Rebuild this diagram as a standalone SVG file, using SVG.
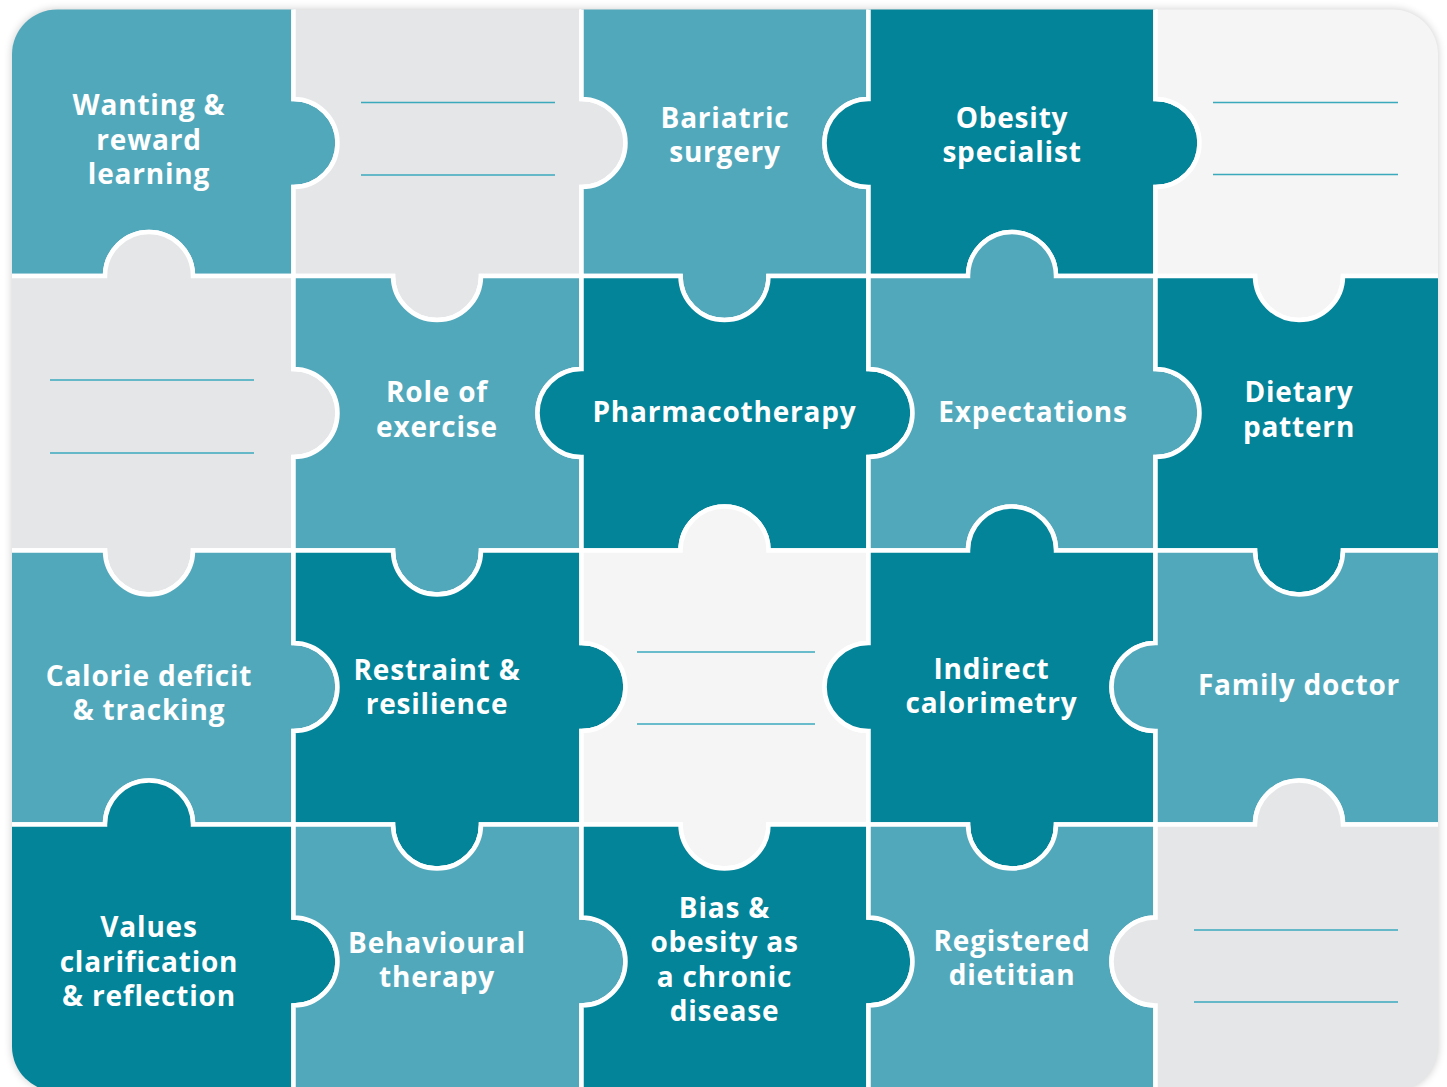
<svg xmlns="http://www.w3.org/2000/svg" width="1447" height="1087" viewBox="0 0 1447 1087">
  <defs>
    <clipPath id="frame">
      <rect x="12" y="9.5" width="1426" height="1082" rx="45" ry="45"/>
    </clipPath>
    <filter id="shadow" x="-5%" y="-5%" width="110%" height="110%">
      <feGaussianBlur stdDeviation="4"/>
    </filter>
    <style>
      .pc { stroke: #ffffff; stroke-width: 4.5; stroke-linejoin: miter; }
      .L { fill: #52A8BB; }
      .D { fill: #038499; }
      .G1 { fill: #E5E6E8; }
      .G2 { fill: #F5F5F5; }
      .t { font-family: "Open Sans", "Noto Sans", "Liberation Sans", sans-serif; font-weight: 700; font-size: 28px; letter-spacing: 0.8px; fill: #ffffff; text-anchor: middle; }
      .blank { stroke: #3AA9BC; stroke-width: 1.6; fill: none; }
    </style>
  </defs>
  <rect width="1447" height="1087" fill="#ffffff"/>
  <rect x="12" y="9.5" width="1426" height="1082" rx="45" ry="45" fill="#000000" opacity="0.2" filter="url(#shadow)"/>
  <g clip-path="url(#frame)">
    <!-- Row 0 -->
    <g id="piece-r0c0">
      <path class="pc L" d="M-10,-10 H293.5 V99 A44 44 0 0 1 293.5,187 V276 H193 A44 44 0 0 0 105,276 H-10 Z"/>
      <text class="t" x="149" y="115">Wanting &amp;</text>
      <text class="t" x="149" y="150">reward</text>
      <text class="t" x="149" y="184">learning</text>
    </g>
    <g id="piece-r0c1">
      <path class="pc G1" d="M293.5,-10 H581.5 V99 A44 44 0 0 1 581.5,187 V276 H481 A44 44 0 0 1 393,276 H293.5 V187 A44 44 0 0 0 293.5,99 Z"/>
      <line class="blank" x1="361" y1="102.5" x2="555" y2="102.5"/>
      <line class="blank" x1="361" y1="175" x2="555" y2="175"/>
    </g>
    <g id="piece-r0c2">
      <path class="pc L" d="M581.5,-10 H868.5 V99 A44 44 0 0 0 868.5,187 V276 H768.5 A44 44 0 0 1 680.5,276 H581.5 V187 A44 44 0 0 0 581.5,99 Z"/>
      <text class="t" x="725" y="128">Bariatric</text>
      <text class="t" x="725" y="162">surgery</text>
    </g>
    <g id="piece-r0c3">
      <path class="pc D" d="M868.5,-10 H1155.5 V99 A44 44 0 0 1 1155.5,187 V276 H1056 A44 44 0 0 0 968,276 H868.5 V187 A44 44 0 0 1 868.5,99 Z"/>
      <text class="t" x="1012" y="128">Obesity</text>
      <text class="t" x="1012" y="162">specialist</text>
    </g>
    <g id="piece-r0c4">
      <path class="pc G2" d="M1155.5,-10 H1460 V276 H1343 A44 44 0 0 1 1255,276 H1155.5 V187 A44 44 0 0 0 1155.5,99 Z"/>
      <line class="blank" x1="1213" y1="102.5" x2="1398" y2="102.5"/>
      <line class="blank" x1="1213" y1="174.5" x2="1398" y2="174.5"/>
    </g>
    <!-- Row 1 -->
    <g id="piece-r1c0">
      <path class="pc G1" d="M-10,276 H105 A44 44 0 0 1 193,276 H293.5 V369 A44 44 0 0 1 293.5,457 V550.5 H193 A44 44 0 0 1 105,550.5 H-10 Z"/>
      <line class="blank" x1="50" y1="380" x2="254" y2="380"/>
      <line class="blank" x1="50" y1="453" x2="254" y2="453"/>
    </g>
    <g id="piece-r1c1">
      <path class="pc L" d="M293.5,276 H393 A44 44 0 0 0 481,276 H581.5 V369 A44 44 0 0 0 581.5,457 V550.5 H481 A44 44 0 0 1 393,550.5 H293.5 V457 A44 44 0 0 0 293.5,369 Z"/>
      <text class="t" x="437" y="402">Role of</text>
      <text class="t" x="437" y="436.5">exercise</text>
    </g>
    <g id="piece-r1c2">
      <path class="pc D" d="M581.5,276 H680.5 A44 44 0 0 0 768.5,276 H868.5 V369 A44 44 0 0 1 868.5,457 V550.5 H768.5 A44 44 0 0 0 680.5,550.5 H581.5 V457 A44 44 0 0 1 581.5,369 Z"/>
      <text class="t" x="724.5" y="422">Pharmacotherapy</text>
    </g>
    <g id="piece-r1c3">
      <path class="pc L" d="M868.5,276 H968 A44 44 0 0 1 1056,276 H1155.5 V369 A44 44 0 0 1 1155.5,457 V550.5 H1056 A44 44 0 0 0 968,550.5 H868.5 V457 A44 44 0 0 0 868.5,369 Z"/>
      <text class="t" x="1033" y="422">Expectations</text>
    </g>
    <g id="piece-r1c4">
      <path class="pc D" d="M1155.5,276 H1255 A44 44 0 0 0 1343,276 H1460 V550.5 H1343 A44 44 0 0 1 1255,550.5 H1155.5 V457 A44 44 0 0 0 1155.5,369 Z"/>
      <text class="t" x="1299" y="402">Dietary</text>
      <text class="t" x="1299" y="437">pattern</text>
    </g>
    <!-- Row 2 -->
    <g id="piece-r2c0">
      <path class="pc L" d="M-10,550.5 H105 A44 44 0 0 0 193,550.5 H293.5 V643 A44 44 0 0 1 293.5,731 V824.5 H193 A44 44 0 0 0 105,824.5 H-10 Z"/>
      <text class="t" x="149" y="686">Calorie deficit</text>
      <text class="t" x="149" y="720">&amp; tracking</text>
    </g>
    <g id="piece-r2c1">
      <path class="pc D" d="M293.5,550.5 H393 A44 44 0 0 0 481,550.5 H581.5 V643 A44 44 0 0 1 581.5,731 V824.5 H481 A44 44 0 0 1 393,824.5 H293.5 V731 A44 44 0 0 0 293.5,643 Z"/>
      <text class="t" x="437" y="680">Restraint &amp;</text>
      <text class="t" x="437" y="714">resilience</text>
    </g>
    <g id="piece-r2c2">
      <path class="pc G2" d="M581.5,550.5 H680.5 A44 44 0 0 1 768.5,550.5 H868.5 V643 A44 44 0 0 0 868.5,731 V824.5 H768.5 A44 44 0 0 1 680.5,824.5 H581.5 V731 A44 44 0 0 0 581.5,643 Z"/>
      <line class="blank" x1="637" y1="652" x2="815" y2="652"/>
      <line class="blank" x1="637" y1="724" x2="815" y2="724"/>
    </g>
    <g id="piece-r2c3">
      <path class="pc D" d="M868.5,550.5 H968 A44 44 0 0 1 1056,550.5 H1155.5 V643 A44 44 0 0 0 1155.5,731 V824.5 H1056 A44 44 0 0 1 968,824.5 H868.5 V731 A44 44 0 0 1 868.5,643 Z"/>
      <text class="t" x="991.5" y="679">Indirect</text>
      <text class="t" x="991.5" y="713">calorimetry</text>
    </g>
    <g id="piece-r2c4">
      <path class="pc L" d="M1155.5,550.5 H1255 A44 44 0 0 0 1343,550.5 H1460 V824.5 H1343 A44 44 0 0 0 1255,824.5 H1155.5 V731 A44 44 0 0 1 1155.5,643 Z"/>
      <text class="t" x="1299" y="695">Family doctor</text>
    </g>
    <!-- Row 3 -->
    <g id="piece-r3c0">
      <path class="pc D" d="M-10,824.5 H105 A44 44 0 0 1 193,824.5 H293.5 V917.5 A44 44 0 0 1 293.5,1005.5 V1100 H-10 Z"/>
      <text class="t" x="149" y="937">Values</text>
      <text class="t" x="149" y="972">clarification</text>
      <text class="t" x="149" y="1006">&amp; reflection</text>
    </g>
    <g id="piece-r3c1">
      <path class="pc L" d="M293.5,824.5 H393 A44 44 0 0 0 481,824.5 H581.5 V917.5 A44 44 0 0 1 581.5,1005.5 V1100 H293.5 V1005.5 A44 44 0 0 0 293.5,917.5 Z"/>
      <text class="t" x="437" y="953">Behavioural</text>
      <text class="t" x="437" y="987">therapy</text>
    </g>
    <g id="piece-r3c2">
      <path class="pc D" d="M581.5,824.5 H680.5 A44 44 0 0 0 768.5,824.5 H868.5 V917.5 A44 44 0 0 1 868.5,1005.5 V1100 H581.5 V1005.5 A44 44 0 0 0 581.5,917.5 Z"/>
      <text class="t" x="724.5" y="918">Bias &amp;</text>
      <text class="t" x="724.5" y="952">obesity as</text>
      <text class="t" x="724.5" y="987">a chronic</text>
      <text class="t" x="724.5" y="1021">disease</text>
    </g>
    <g id="piece-r3c3">
      <path class="pc L" d="M868.5,824.5 H968 A44 44 0 0 0 1056,824.5 H1155.5 V917.5 A44 44 0 0 0 1155.5,1005.5 V1100 H868.5 V1005.5 A44 44 0 0 0 868.5,917.5 Z"/>
      <text class="t" x="1012" y="950.5">Registered</text>
      <text class="t" x="1012" y="984.5">dietitian</text>
    </g>
    <g id="piece-r3c4">
      <path class="pc G1" d="M1155.5,824.5 H1255 A44 44 0 0 1 1343,824.5 H1460 V1100 H1155.5 V1005.5 A44 44 0 0 1 1155.5,917.5 Z"/>
      <line class="blank" x1="1194" y1="930" x2="1398" y2="930"/>
      <line class="blank" x1="1194" y1="1002" x2="1398" y2="1002"/>
    </g>
  </g>
  <g id="connectors"/>
</svg>
